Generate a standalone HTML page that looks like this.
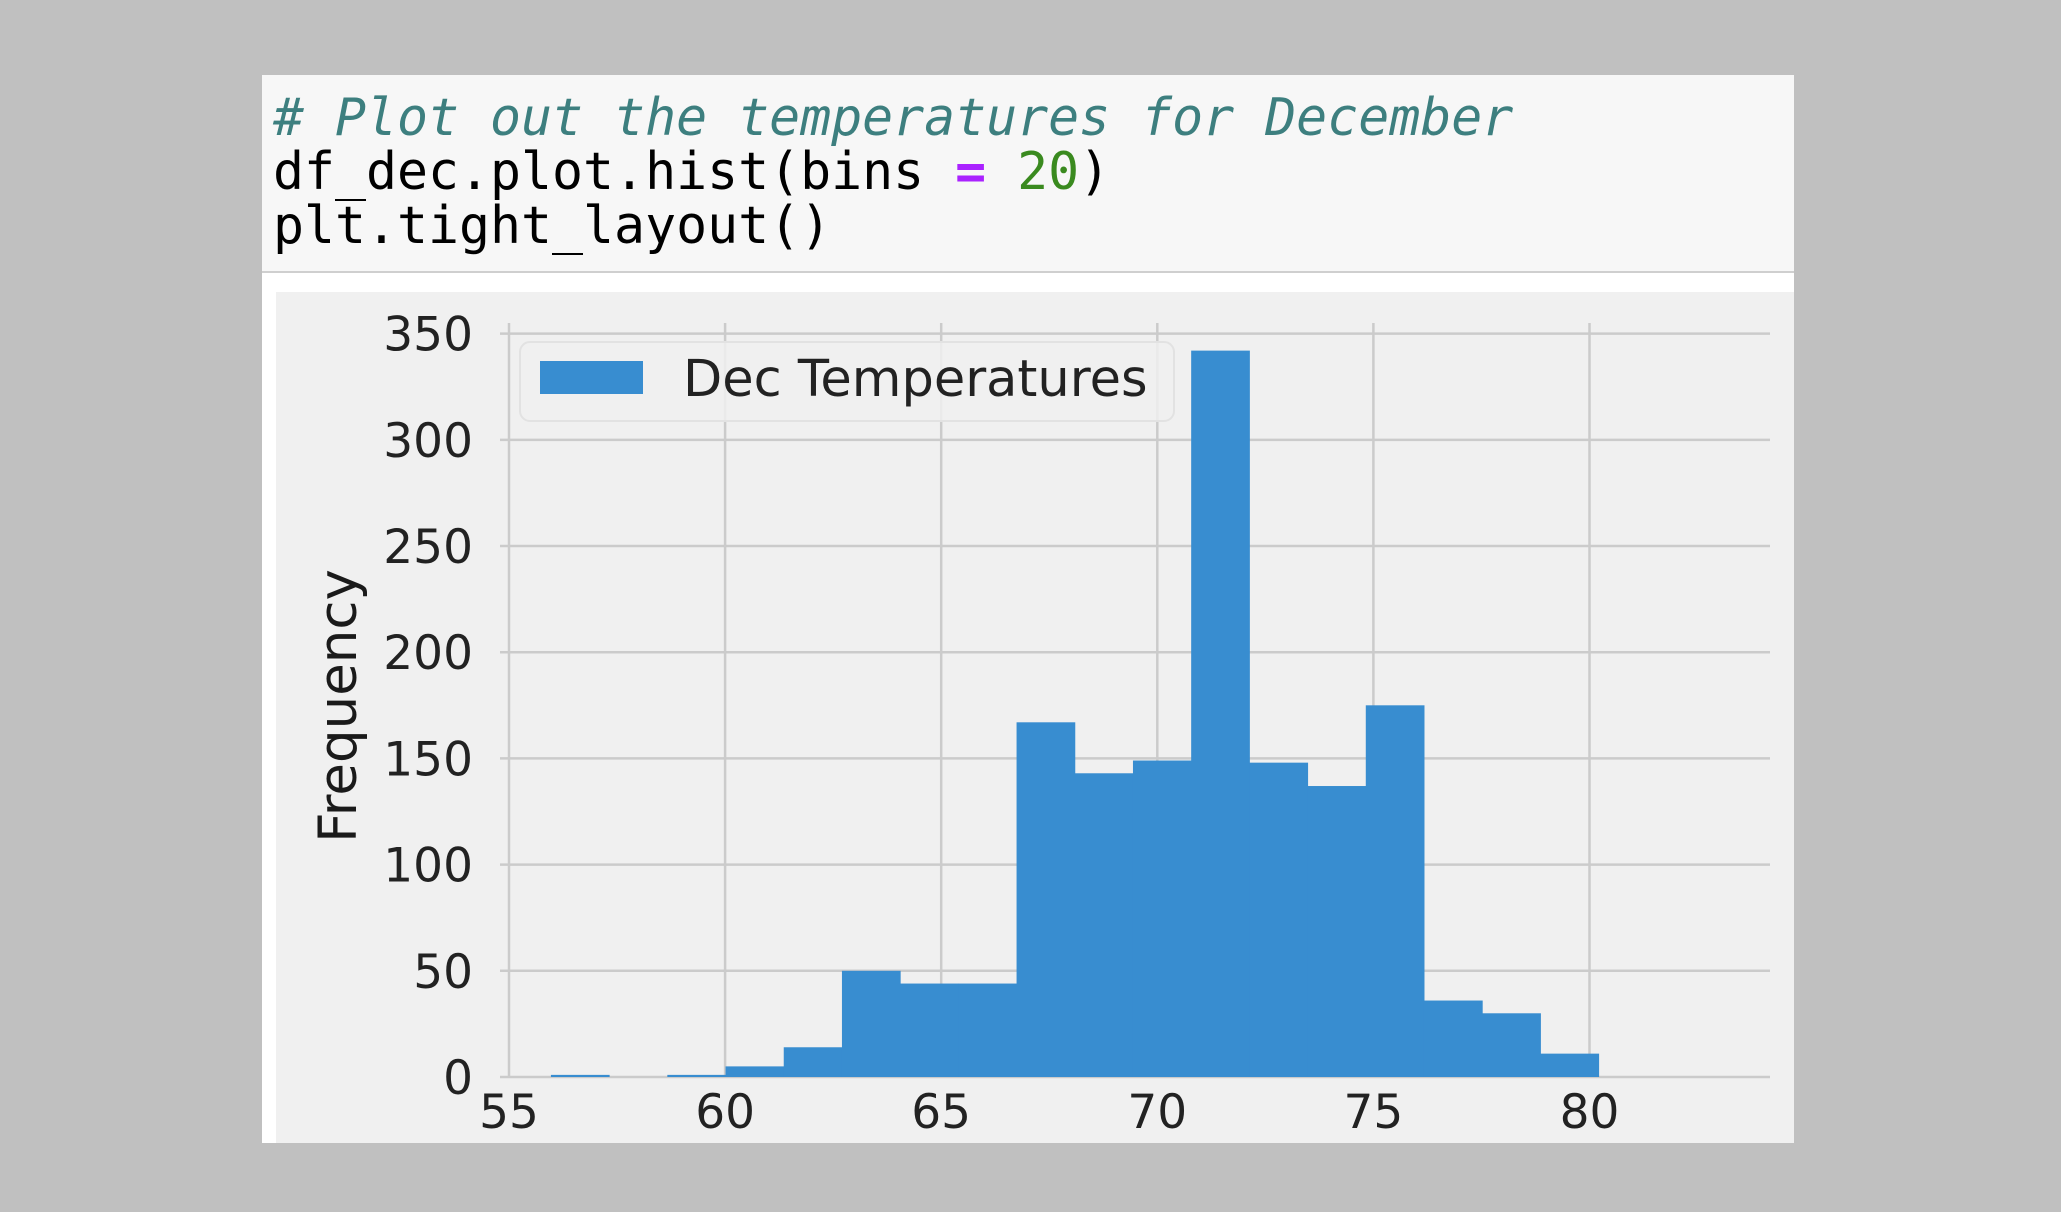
<!DOCTYPE html>
<html><head><meta charset="utf-8"><style>
html,body{margin:0;padding:0;background:#c0c0c0;width:2061px;height:1212px;overflow:hidden}
#panel{position:absolute;left:262px;top:75px;width:1532px;height:1068px;background:#fff}
#code{position:absolute;left:0;top:0;width:1532px;height:196px;background:#f7f7f7;border-bottom:2px solid #cfcfcf}
.ln{position:absolute;left:11px;font-family:"DejaVu Sans Mono","Liberation Mono",monospace;font-size:51.5px;color:#000;white-space:pre;line-height:1}
svg{position:absolute;left:0;top:0}
</style></head><body>
<div id="panel">
<div id="code">
<div class="ln" style="top:18px;color:#3d7f7f;font-style:italic"># Plot out the temperatures for December</div>
<div class="ln" style="top:72px">df_dec.plot.hist(bins <b style="color:#aa22ff">=</b> <span style="color:#3a8a1f">20</span>)</div>
<div class="ln" style="top:126px">plt.tight_layout()</div>
</div>
</div>
<svg id="chart" width="2061" height="1212"></svg>
<script>
const binStart = 55.97;
const binWidth = 1.3467;
const counts = [1,0,1,5,14,50,44,44,167,143,149,342,148,137,175,36,30,11];
const xTicks = [55,60,65,70,75,80];
const yTicks = [0,50,100,150,200,250,300,350];
const seriesName = "Dec Temperatures";
const ns="http://www.w3.org/2000/svg";
const svg=document.getElementById('chart');
const L=500,R=1770,T=323,B=1077;
const ymin=0,ymax=355;
const sx=v=>509+(v-55)*43.22;
const sy=v=>B-(v-ymin)/(ymax-ymin)*(B-T);
function mk(t,a){const e=document.createElementNS(ns,t);for(const k in a)e.setAttribute(k,a[k]);svg.appendChild(e);return e;}
const bg=mk('rect',{x:276,y:292,width:1518,height:851,fill:'#f0f0f0'});


yTicks.forEach(v=>{
  const g=mk('line',{x1:L,x2:R,y1:sy(v),y2:sy(v),stroke:'#cbcbcb','stroke-width':2.5});
  
  
  const t=mk('text',{x:473,y:sy(v)+17,'text-anchor':'end','font-family':'DejaVu Sans, sans-serif','font-size':47,fill:'#222'});
  t.textContent=v;
  
  
});
xTicks.forEach(v=>{
  const g=mk('line',{x1:sx(v),x2:sx(v),y1:T,y2:B,stroke:'#cbcbcb','stroke-width':2.5});
  
  
  const t=mk('text',{x:sx(v),y:1128,'text-anchor':'middle','font-family':'DejaVu Sans, sans-serif','font-size':47,fill:'#222'});
  t.textContent=v;
  
  
});
counts.forEach((c,i)=>{
  if(c<=0)return;
  const x0=sx(binStart+i*binWidth),x1=sx(binStart+(i+1)*binWidth);
  const r=mk('rect',{x:x0,y:sy(c),width:x1-x0+0.5,height:B-sy(c),fill:'#388dd0'});
  
  
});
const yl=mk('text',{x:0,y:0,transform:'translate(356,706) rotate(-90)','text-anchor':'middle','font-family':'DejaVu Sans, sans-serif','font-size':53,fill:'#1a1a1a'});
yl.textContent='Frequency';


const lg=mk('rect',{x:520,y:342,width:654,height:79,rx:10,fill:'#f0f0f0',stroke:'#e2e2e2','stroke-width':2,'fill-opacity':0.85});


const lp=mk('rect',{x:540,y:361,width:103,height:33,fill:'#388dd0'});


const lt=mk('text',{x:683,y:396,'font-family':'DejaVu Sans, sans-serif','font-size':51,fill:'#222'});
lt.textContent=seriesName;


</script>
</body></html>
